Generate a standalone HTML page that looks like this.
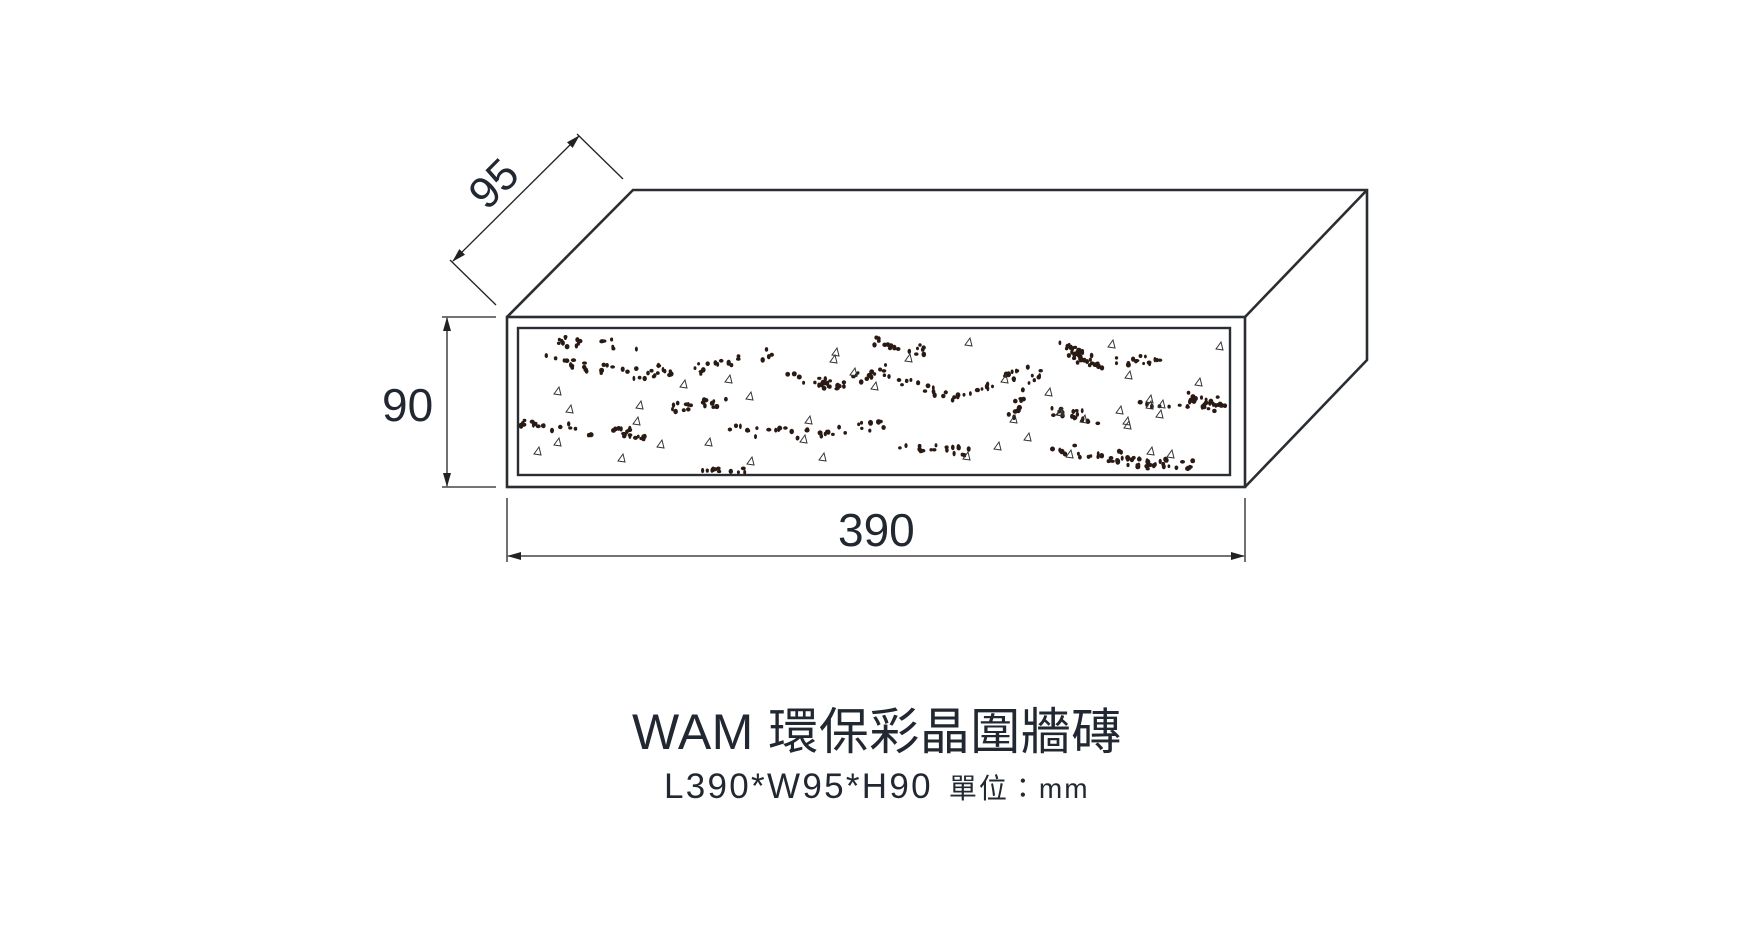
<!DOCTYPE html>
<html><head><meta charset="utf-8"><style>
html,body{margin:0;padding:0;background:#fff;}
body{width:1754px;height:945px;position:relative;overflow:hidden;}
.t{position:absolute;font-family:"Liberation Sans","Noto Sans CJK TC",sans-serif;color:#222831;white-space:nowrap;}
</style></head><body>
<svg id="s" width="1754" height="945" style="position:absolute;left:0;top:0">
<defs><marker id="a" markerWidth="14" markerHeight="8" refX="13" refY="4" orient="auto-start-reverse" markerUnits="userSpaceOnUse"><path d="M0,0 L14,4 L0,8 Z" fill="#222"/></marker></defs>
<g stroke="#2a2e33" fill="none" stroke-width="2.6">
<rect x="507" y="317" width="738" height="170"/>
<rect x="518" y="328" width="712" height="147" stroke-width="2.4"/>
<path d="M507 317 L633 190 L1367 190 L1367 360 L1245 487 M1245 317 L1367 190"/>
</g>
<g stroke="#222" stroke-width="1.3" fill="none">
<line x1="623" y1="179" x2="577" y2="134"/>
<line x1="496" y1="305" x2="450" y2="260"/>
<line x1="453" y1="261" x2="579" y2="136" marker-end="url(#a)" marker-start="url(#a)"/>
<line x1="442" y1="317" x2="496" y2="317"/>
<line x1="442" y1="487" x2="496" y2="487"/>
<line x1="447" y1="318" x2="447" y2="486" marker-end="url(#a)" marker-start="url(#a)"/>
<line x1="507" y1="498" x2="507" y2="562"/>
<line x1="1245" y1="498" x2="1245" y2="562"/>
<line x1="508" y1="556" x2="1244" y2="556" marker-end="url(#a)" marker-start="url(#a)"/>
</g>
<g id="dots" fill="#2a1a14"></g>
<g id="tris" fill="none" stroke="#333" stroke-width="1"></g>
<text x="496" y="186" transform="rotate(-45 496 186)" text-anchor="middle" dominant-baseline="middle" font-family="Liberation Sans, sans-serif" font-size="44" fill="#222831">95</text>
</svg>
<div class="t" style="left:382px;top:378px;font-size:46px;">90</div>
<div class="t" style="left:838px;top:503px;font-size:46px;">390</div>
<div class="t" style="left:632px;top:692px;font-size:50px;letter-spacing:0.5px;">WAM 環保彩晶圍牆磚</div>
<div class="t" style="left:664px;top:767px;font-size:35px;letter-spacing:2.3px;">L390*W95*H90 <span style="font-size:28px;letter-spacing:2px;margin-left:4px">單位：mm</span></div>
<script>
var k=1.1186,seed=7;function r(){seed=(seed*16807)%2147483647;return seed/2147483647;}
var st=[[[485,320],[560,335],[600,330]],[[625,330],[690,315]],[[700,335],[750,345],[790,330]],[[780,305],[830,315]],[[790,340],[860,355],[920,330]],[[930,330],[900,380]],[[950,310],[980,325],[1040,320]],[[1020,360],[1095,360]],[[465,380],[540,385],[580,390]],[[600,365],[645,360]],[[655,385],[720,388],[790,380]],[[800,395],[870,405]],[[940,365],[980,375]],[[940,400],[1010,410],[1080,418]],[[620,420],[670,423]],[[500,305],[575,308]],[[1000,412],[1030,415]],[[955,312],[970,322]],[[1060,355],[1090,365]]];
var d='',t='';
st.forEach(function(p){for(var i=0;i<p.length-1;i++){var n=18;for(var j=0;j<n;j++){var f=r();var x=(p[i][0]+(p[i+1][0]-p[i][0])*f+(r()-.5)*8)*k,y=(p[i][1]+(p[i+1][1]-p[i][1])*f+(r()-.5)*10)*k;if(x<520||x>1228||y<330||y>473)continue;d+='<ellipse cx="'+x.toFixed(1)+'" cy="'+y.toFixed(1)+'" rx="'+(1.4+r()*1.2).toFixed(1)+'" ry="'+(1.6+r()*1.2).toFixed(1)+'"/>';}}});
for(var i=0;i<45;i++){var x=530+r()*690,y=335+r()*130;t+='<path d="M'+x.toFixed(0)+' '+y.toFixed(0)+' l5 -7 l2 8 z"/>';}
document.getElementById('dots').innerHTML=d;document.getElementById('tris').innerHTML=t;
</script>
</body></html>
